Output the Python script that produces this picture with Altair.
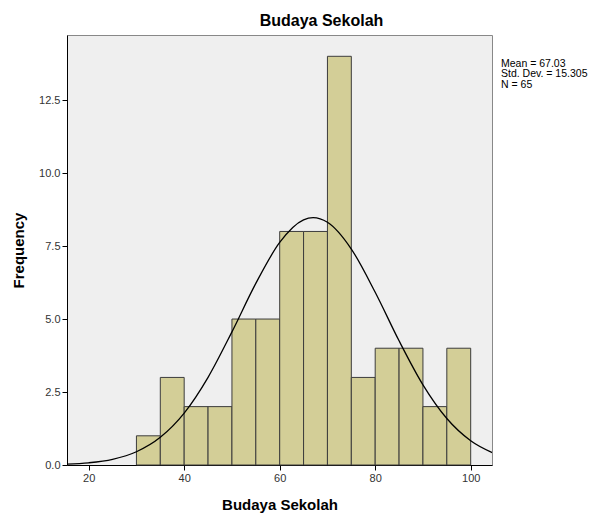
import altair as alt
import pandas as pd

bin_start = [30, 35, 40, 45, 50, 55, 60, 65, 70, 75, 80, 85, 90, 95]
bin_end = [35, 40, 45, 50, 55, 60, 65, 70, 75, 80, 85, 90, 95, 100]
counts = [1, 3, 2, 2, 5, 5, 8, 8, 14, 3, 4, 4, 2, 4]

curve_x = [15, 20, 25, 30, 35, 40, 45, 50, 55, 60, 65, 67, 70, 75, 80, 85, 90, 95, 100, 105]
curve_y = [0.026, 0.076, 0.195, 0.454, 0.948, 1.777, 3.004, 4.561, 6.220, 7.624, 8.398, 8.472,
           8.314, 7.398, 5.917, 4.254, 2.747, 1.594, 0.833, 0.390]

stats_lines = ["Mean = 67.03", "Std. Dev. = 15.305", "N = 65"]
x_ticks = [20, 40, 60, 80, 100]
y_ticks = [0, 2.5, 5, 7.5, 10, 12.5]

bars_df = pd.DataFrame({"start": bin_start, "end": bin_end, "count": counts})
curve_df = pd.DataFrame({"x": curve_x, "y": curve_y})

FONT = "Liberation Sans"
xscale = alt.Scale(domain=[15.46, 104.46], nice=False, zero=False)
yscale = alt.Scale(domain=[0, 14.73], nice=False)

xaxis = alt.Axis(values=x_ticks, title="Budaya Sekolah", grid=False, tickSize=5,
                 labelFontSize=11, labelColor="#333333", titleFontSize=15,
                 titleFontWeight="bold", titleColor="#000000", titlePadding=14,
                 domainColor="#000000", tickColor="#000000", labelPadding=2)
yaxis = alt.Axis(values=y_ticks, format=".1f", title="Frequency", grid=False, tickSize=5,
                 labelFontSize=11, labelColor="#333333", titleFontSize=15,
                 titleFontWeight="bold", titleColor="#000000", titlePadding=12,
                 domainColor="#000000", tickColor="#000000", labelPadding=2)

bars = alt.Chart(bars_df).mark_bar(fill="#d3ce97", stroke="#3c3c3c", strokeWidth=1).encode(
    x=alt.X("start:Q", scale=xscale, axis=xaxis),
    x2="end:Q",
    y=alt.Y("count:Q", scale=yscale, axis=yaxis),
    y2=alt.datum(0),
)

curve = alt.Chart(curve_df).mark_line(color="#000000", strokeWidth=1.3, interpolate="monotone", clip=True).encode(
    x=alt.X("x:Q", scale=xscale),
    y=alt.Y("y:Q", scale=yscale),
)

stats = alt.Chart(pd.DataFrame({"t": [0]})).mark_text(
    align="left", baseline="middle", fontSize=10.5, font=FONT, color="#000000",
    lineHeight=10.6, text=stats_lines
).encode(x=alt.value(434), y=alt.value(28.5))

chart = alt.layer(bars, curve, stats).properties(
    width=425, height=430,
    view=alt.ViewBackground(fill="#efefef", stroke="#888888", strokeWidth=1),
    title=alt.TitleParams("Budaya Sekolah", fontSize=16, fontWeight="bold", font=FONT,
                          anchor="middle", dx=42, offset=6, color="#000000"),
    autosize=alt.AutoSizeParams(type="none"),
    padding={"left": 59, "top": 27, "right": 96, "bottom": 48},
).configure(
    font=FONT, background="#ffffff"
).configure_axis(labelFont=FONT, titleFont=FONT)

chart.save("out.html", embed_options={"renderer": "svg", "actions": False})
